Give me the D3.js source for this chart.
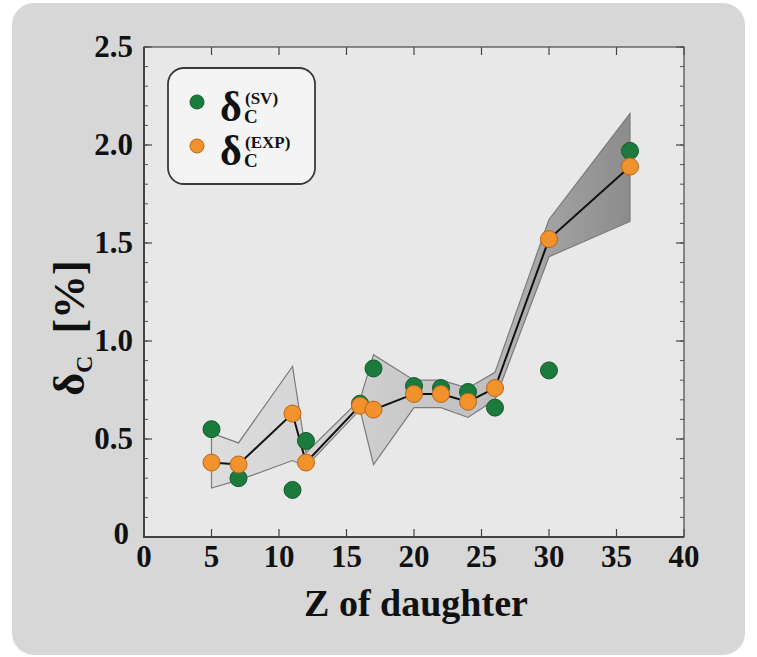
<!DOCTYPE html>
<html>
<head>
<meta charset="utf-8">
<script src="https://cdn.jsdelivr.net/npm/d3@7"></script>
<style>
  body { margin: 0; background: #fff; }
  svg text { font-family: "Liberation Serif", "Times New Roman", serif; font-weight: bold; fill: #111; }
</style>
</head>
<body>
<svg id="chart" width="757" height="657"></svg>
<script>
// chart data
var zValues   = [5, 7, 11, 12, 16, 17, 20, 22, 24, 26, 30, 36];
var deltaSV   = [0.55, 0.30, 0.24, 0.49, 0.68, 0.86, 0.77, 0.76, 0.74, 0.66, 0.85, 1.97];
var deltaEXP  = [0.38, 0.37, 0.63, 0.38, 0.67, 0.65, 0.73, 0.73, 0.69, 0.76, 1.52, 1.89];
var bandUpper = [0.53, 0.48, 0.87, 0.43, 0.70, 0.93, 0.80, 0.80, 0.76, 0.84, 1.62, 2.16];
var bandLower = [0.25, 0.29, 0.39, 0.36, 0.65, 0.37, 0.66, 0.66, 0.61, 0.70, 1.43, 1.61];
var xTicks = [0, 5, 10, 15, 20, 25, 30, 35, 40];
var yTicks = [0, 0.5, 1.0, 1.5, 2.0, 2.5];

var svg = d3.select("#chart");

// grey rounded panel behind everything
svg.append("rect")
    .attr("x", 12).attr("y", 3)
    .attr("width", 733).attr("height", 652)
    .attr("rx", 22)
    .attr("fill", "#d7d7d7");

var x = d3.scaleLinear().domain([0, 40]).range([144, 684]);
var y = d3.scaleLinear().domain([0, 2.5]).range([537, 47]);

// plot area
svg.append("rect")
    .attr("x", x(0)).attr("y", y(2.5))
    .attr("width", x(40) - x(0)).attr("height", y(0) - y(2.5))
    .attr("fill", "#e8e8e8");

var pts = zValues.map(function(z, i) {
    return { z: z, sv: deltaSV[i], exp: deltaEXP[i], hi: bandUpper[i], lo: bandLower[i] };
});

// band gets darker towards high Z
var defs = svg.append("defs");
var grad = defs.append("linearGradient")
    .attr("id", "bandFill")
    .attr("gradientUnits", "userSpaceOnUse")
    .attr("x1", x(5)).attr("x2", x(36))
    .attr("y1", 0).attr("y2", 0);
grad.append("stop").attr("offset", "0%").attr("stop-color", "#dddddd");
grad.append("stop").attr("offset", "25%").attr("stop-color", "#d4d4d4");
grad.append("stop").attr("offset", "65%").attr("stop-color", "#c0c0c0");
grad.append("stop").attr("offset", "82%").attr("stop-color", "#a0a0a0");
grad.append("stop").attr("offset", "100%").attr("stop-color", "#8c8c8c");

var band = d3.area()
    .x(function(d) { return x(d.z); })
    .y0(function(d) { return y(d.lo); })
    .y1(function(d) { return y(d.hi); });

svg.append("path")
    .datum(pts)
    .attr("d", band)
    .attr("fill", "url(#bandFill)")
    .attr("stroke", "#7a7a7a")
    .attr("stroke-width", 1.2);

var line = d3.line()
    .x(function(d) { return x(d.z); })
    .y(function(d) { return y(d.exp); });

svg.append("path")
    .datum(pts)
    .attr("d", line)
    .attr("fill", "none")
    .attr("stroke", "#111")
    .attr("stroke-width", 2);

// frame + ticks (inward, all four sides)
var g = svg.append("g");
var yMinor = d3.range(0, 2.51, 0.1);

g.selectAll(".ymin").data(yMinor).enter().append("line")
    .attr("x1", x(0)).attr("x2", x(0) + 4)
    .attr("y1", function(d) { return y(d); }).attr("y2", function(d) { return y(d); })
    .attr("stroke", "#555").attr("stroke-width", 1);
g.selectAll(".yminr").data(yMinor).enter().append("line")
    .attr("x1", x(40)).attr("x2", x(40) - 4)
    .attr("y1", function(d) { return y(d); }).attr("y2", function(d) { return y(d); })
    .attr("stroke", "#555").attr("stroke-width", 1);
g.selectAll(".ymaj").data(yTicks).enter().append("line")
    .attr("x1", x(0)).attr("x2", x(0) + 8)
    .attr("y1", function(d) { return y(d); }).attr("y2", function(d) { return y(d); })
    .attr("stroke", "#444").attr("stroke-width", 1.2);
g.selectAll(".ymajr").data(yTicks).enter().append("line")
    .attr("x1", x(40)).attr("x2", x(40) - 8)
    .attr("y1", function(d) { return y(d); }).attr("y2", function(d) { return y(d); })
    .attr("stroke", "#444").attr("stroke-width", 1.2);
g.selectAll(".xmaj").data(xTicks).enter().append("line")
    .attr("x1", function(d) { return x(d); }).attr("x2", function(d) { return x(d); })
    .attr("y1", y(0)).attr("y2", y(0) - 8)
    .attr("stroke", "#444").attr("stroke-width", 1.2);
g.selectAll(".xmajt").data(xTicks).enter().append("line")
    .attr("x1", function(d) { return x(d); }).attr("x2", function(d) { return x(d); })
    .attr("y1", y(2.5)).attr("y2", y(2.5) + 8)
    .attr("stroke", "#444").attr("stroke-width", 1.2);

g.append("rect")
    .attr("x", x(0)).attr("y", y(2.5))
    .attr("width", x(40) - x(0)).attr("height", y(0) - y(2.5))
    .attr("fill", "none")
    .attr("stroke", "#555").attr("stroke-width", 1.3);
// heavier left and bottom edges
g.append("path")
    .attr("d", "M" + x(0) + "," + y(2.5) + "V" + y(0) + "H" + x(40))
    .attr("fill", "none").attr("stroke", "#444").attr("stroke-width", 2);

// tick labels
svg.selectAll(".ylab").data(yTicks).enter().append("text")
    .attr("x", function(d) { return d === 0 ? 129 : 133; })
    .attr("y", function(d) { return d === 0 ? y(d) + 7 : y(d) + 10; })
    .attr("text-anchor", "end")
    .attr("font-size", 31)
    .text(function(d) { return d === 0 ? "0" : d3.format(".1f")(d); });

svg.selectAll(".xlab").data(xTicks).enter().append("text")
    .attr("x", function(d) { return x(d); })
    .attr("y", 567)
    .attr("text-anchor", "middle")
    .attr("font-size", 31)
    .text(function(d) { return d; });

// axis titles
svg.append("text")
    .attr("x", 416).attr("y", 616)
    .attr("text-anchor", "middle")
    .attr("font-size", 38)
    .text("Z of daughter");

var yt = svg.append("text")
    .attr("transform", "translate(84,328) rotate(-90)")
    .attr("text-anchor", "middle")
    .attr("font-size", 44);
yt.append("tspan").text("δ");
yt.append("tspan").attr("font-size", 24).attr("dy", 8).text("C");
yt.append("tspan").attr("dy", -8).text("\u2002[%]");

// points
svg.selectAll(".sv").data(pts).enter().append("circle")
    .attr("cx", function(d) { return x(d.z); })
    .attr("cy", function(d) { return y(d.sv); })
    .attr("r", 8.5)
    .attr("fill", "#1b7b3c")
    .attr("stroke", "#135a2b").attr("stroke-width", 1);

svg.selectAll(".exp").data(pts).enter().append("circle")
    .attr("cx", function(d) { return x(d.z); })
    .attr("cy", function(d) { return y(d.exp); })
    .attr("r", 8.5)
    .attr("fill", "#f2922c")
    .attr("stroke", "#b5661c").attr("stroke-width", 1);

// legend
var leg = svg.append("g");
leg.append("rect")
    .attr("x", 168).attr("y", 68)
    .attr("width", 147).attr("height", 116)
    .attr("rx", 16)
    .attr("fill", "#f4f4f4")
    .attr("stroke", "#3a3a3a").attr("stroke-width", 1.8);

var legItems = [
    { label: "(SV)", color: "#1b7b3c", stroke: "#135a2b", cy: 102 },
    { label: "(EXP)", color: "#f2922c", stroke: "#b5661c", cy: 146 }
];
legItems.forEach(function(it) {
    leg.append("circle")
        .attr("cx", 197).attr("cy", it.cy).attr("r", 7)
        .attr("fill", it.color).attr("stroke", it.stroke);
    leg.append("text")
        .attr("x", 220).attr("y", it.cy + 19)
        .attr("font-size", 42)
        .text("δ");
    leg.append("text")
        .attr("x", 244).attr("y", it.cy + 21)
        .attr("font-size", 19)
        .text("C");
    leg.append("text")
        .attr("x", 245).attr("y", it.cy + 2)
        .attr("font-size", 17)
        .text(it.label);
});
</script>
</body>
</html>
